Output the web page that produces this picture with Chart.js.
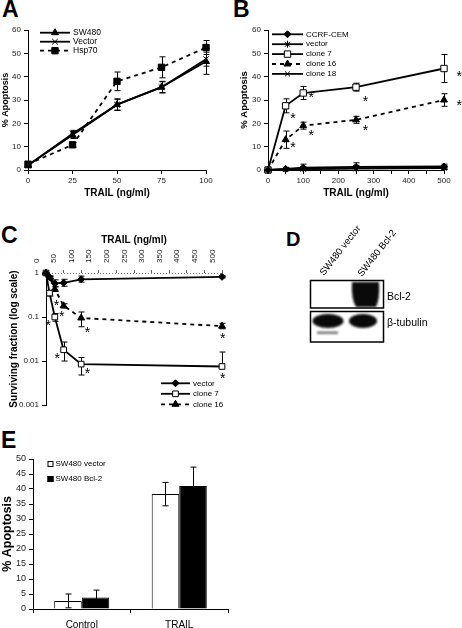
<!DOCTYPE html>
<html>
<head>
<meta charset="utf-8">
<title>TRAIL / Bcl-2 figure</title>
<script src="https://cdn.jsdelivr.net/npm/chart.js"></script>
<style>
  html, body { margin:0; padding:0; background:#fff; }
  body { position:relative; width:462px; height:628px; overflow:hidden;
         font-family:"Liberation Sans", Arial, sans-serif; }
  canvas { position:absolute; }
  .lbl { position:absolute; font-weight:bold; line-height:1; color:#000; }
</style>
</head>
<body>
<div class="lbl" style="left:2px;top:-2.5px;font-size:23px">A</div>
<div class="lbl" style="left:233px;top:-2.5px;font-size:23px">B</div>
<div class="lbl" style="left:1px;top:223.5px;font-size:23px">C</div>
<div class="lbl" style="left:286px;top:229px;font-size:20px">D</div>
<div class="lbl" style="left:1px;top:428.5px;font-size:23px">E</div>

<canvas id="chartA" width="215" height="180" style="left:0;top:20px"></canvas>
<canvas id="chartB" width="231" height="180" style="left:231px;top:20px"></canvas>
<canvas id="chartC" width="231" height="190" style="left:0;top:225px"></canvas>
<canvas id="blotD" width="231" height="135" style="left:231px;top:215px"></canvas>
<canvas id="chartE" width="240" height="188" style="left:0;top:440px"></canvas>

<script>
// ===== Datos =====
// A: % apoptosis vs TRAIL
const doseA = [0, 25, 50, 75, 100];
const sw480A = [2, 15, 28, 35.5, 46.5];
const sw480AErr = [1, 1.5, 2.5, 2.5, 5.5];
const vectorA = [2, 15.5, 28, 35.5, 47.5];
const vectorAErr = [1, 1.5, 2.3, 2.3, 3];
const hsp70A = [2.5, 10.8, 38, 44, 52.5];
const hsp70AErr = [1, 1, 4, 4.5, 3];

// B: CEM clones
const doseB = [0, 50, 100, 250, 500];
const ccrfB = [0, 0.5, 1, 1.3, 1.5];
const ccrfBErr = [0, 0.5, 1.5, 1.8, 1];
const vectorB = [0, 0.3, 0.5, 0.8, 1];
const vectorBErr = [0, 0.3, 0.8, 1.2, 0.8];
const clone7B = [0, 27.5, 33, 35.5, 43.5];
const clone7BErr = [0, 3, 2.8, 1.7, 6];
const clone16B = [0, 13, 19, 21.5, 30];
const clone16BErr = [0, 3.7, 1.5, 1.5, 2.7];
const clone18B = [0, 0.2, 0.4, 0.6, 0.8];
const clone18BErr = [0, 0.3, 0.5, 0.8, 0.5];
const starsB = [[71, 23.6], [123, 32.5], [277, 30.7], [543, 41.7],
                [71, 11.1], [123, 16.4], [277, 18.6], [543, 29.3]];

// C: surviving fraction (log)
const doseC = [0, 10, 25, 50, 100, 500];
const vectorC = [1, 0.8, 0.58, 0.6, 0.72, 0.82];
const vectorCUp = [0, 0.05, 0.12, 0.12, 0.13, 0.05];
const vectorCDown = [0, 0.05, 0.08, 0.1, 0.1, 0.05];
const clone7C = [1, 0.35, 0.1, 0.018, 0.0085, 0.0075];
const clone7CUp = [0, 0.05, 0.02, 0.009, 0.0035, 0.0085];
const clone7CDown = [0, 0.05, 0.02, 0.008, 0.0037, 0];
const clone16C = [1, 0.8, 0.43, 0.18, 0.095, 0.062];
const clone16CUp = [0, 0.05, 0.05, 0.02, 0.035, 0.01];
const clone16CDown = [0, 0.05, 0.05, 0.02, 0.035, 0.008];
const starsC = [[30, 0.224], [44.6, 0.123], [6.5, 0.076], [118, 0.052],
                [32, 0.0136], [118, 0.0064], [502, 0.04], [502, 0.0049]];
const logTicksC = [0.001, 0.01, 0.1, 1];

// D: western blot labels
const lanesD = ['SW480 vector', 'SW480 Bcl-2'];
const bandsD = ['Bcl-2', '\u03b2-tubulin'];

// E: bars
const groupsE = ['Control', 'TRAIL'];
const vectorE = [2.7, 38.3];
const vectorEErr = [2.3, 3.9];
const bcl2E = [3.8, 41];
const bcl2EErr = [2.5, 6.3];

// ===== Plugins =====
const FONT = '"Liberation Sans", Arial, sans-serif';

function drawErrors(chart) {
  const ctx = chart.ctx;
  chart.data.datasets.forEach((ds, i) => {
    if (!ds.errUp) return;
    const meta = chart.getDatasetMeta(i);
    const ys = chart.scales[meta.yAxisID];
    ctx.save();
    ctx.strokeStyle = '#000';
    ctx.lineWidth = 1;
    meta.data.forEach((el, j) => {
      const raw = ds.data[j];
      const v = typeof raw === 'object' ? raw.y : raw;
      const up = ds.errUp[j] || 0;
      const dn = ds.errDown ? (ds.errDown[j] || 0) : up;
      if (!up && !dn) return;
      const x = Math.round(el.x) + 0.5;
      const yT = ys.getPixelForValue(v + up);
      const lo = Math.max(v - dn, ys.min);
      const yB = ys.getPixelForValue(lo);
      const cap = 3;
      ctx.beginPath();
      ctx.moveTo(x, yT); ctx.lineTo(x, yB);
      if (up) { ctx.moveTo(x - cap, yT); ctx.lineTo(x + cap, yT); }
      if (dn && v - dn > ys.min) { ctx.moveTo(x - cap, yB); ctx.lineTo(x + cap, yB); }
      ctx.stroke();
    });
    ctx.restore();
  });
}

const errorBars = {
  id: 'errorBars',
  beforeDatasetsDraw(chart, args, o) { if (o.layer === 'below') drawErrors(chart); },
  afterDatasetsDraw(chart, args, o) { if (o.layer !== 'below') drawErrors(chart); }
};

// asteriscos de significancia
const starMarks = {
  id: 'starMarks',
  afterDatasetsDraw(chart, args, o) {
    if (!o.points) return;
    const { ctx, scales } = chart;
    ctx.save();
    ctx.font = '14px ' + FONT;
    ctx.fillStyle = '#000';
    ctx.textAlign = 'center';
    ctx.textBaseline = 'alphabetic';
    for (let k = 0; k < o.points.length; k++) {
      const p = o.points[k];
      ctx.fillText('*', scales.x.getPixelForValue(p[0]), scales.y.getPixelForValue(p[1]) + 8);
    }
    ctx.restore();
  }
};

const refLine = {
  id: 'refLine',
  beforeDatasetsDraw(chart, args, o) {
    if (o.value === undefined) return;
    const { ctx, chartArea, scales } = chart;
    const y = Math.round(scales.y.getPixelForValue(o.value)) + 0.5;
    ctx.save();
    ctx.strokeStyle = '#777';
    ctx.lineWidth = 1;
    ctx.setLineDash([1, 2]);
    ctx.beginPath(); ctx.moveTo(chartArea.left, y); ctx.lineTo(chartArea.right, y); ctx.stroke();
    ctx.restore();
  }
};

function markerAt(ctx, ds, x, y) {
  const opts = { pointStyle: ds.pointStyle, radius: ds.pointRadius, borderWidth: 1, rotation: 0 };
  ctx.fillStyle = ds.pointBackgroundColor;
  ctx.strokeStyle = '#000';
  ctx.lineWidth = 1;
  if (Chart.helpers && Chart.helpers.drawPoint) Chart.helpers.drawPoint(ctx, opts, x, y);
  else { ctx.fillRect(x - 3, y - 3, 6, 6); ctx.strokeRect(x - 3, y - 3, 6, 6); }
}

// leyenda dentro del área del gráfico
const insetLegend = {
  id: 'insetLegend',
  afterDraw(chart, args, o) {
    if (o.x === undefined) return;
    const ctx = chart.ctx;
    ctx.save();
    ctx.font = o.size + 'px ' + FONT;
    ctx.textBaseline = 'middle';
    chart.data.datasets.forEach((ds, i) => {
      const y = o.y + i * o.gap;
      if (o.box) {
        ctx.fillStyle = ds.backgroundColor;
        ctx.fillRect(o.x, y - o.box / 2, o.box, o.box);
        ctx.strokeStyle = '#000'; ctx.lineWidth = 1;
        ctx.strokeRect(o.x + 0.5, y - o.box / 2 + 0.5, o.box - 1, o.box - 1);
        ctx.fillStyle = '#000';
        ctx.fillText(ds.label, o.x + o.box + 2, y);
      } else {
        ctx.strokeStyle = '#000';
        ctx.lineWidth = ds.borderWidth;
        ctx.setLineDash(ds.borderDash || []);
        ctx.beginPath(); ctx.moveTo(o.x, y); ctx.lineTo(o.x1, y); ctx.stroke();
        ctx.setLineDash([]);
        markerAt(ctx, ds, (o.x + o.x1) / 2, y);
        ctx.fillStyle = '#000';
        ctx.fillText(ds.label, o.x1 + 3, y);
      }
    });
    ctx.restore();
  }
};

Chart.register(errorBars, starMarks, refLine, insetLegend);
Chart.defaults.font.family = FONT;
Chart.defaults.color = '#222';
Chart.defaults.animation = false;
Chart.defaults.plugins.legend.display = false;
Chart.defaults.plugins.tooltip.enabled = false;

// ===== Helpers =====
const tickGrid = () => ({ display: true, drawOnChartArea: false, drawTicks: true, tickLength: 4,
                          color: '#000', tickColor: '#000', lineWidth: 1 });
const axisBorder = () => ({ display: true, color: '#000', width: 1 });

function lineSet(label, xs, ys, st, errUp, errDown) {
  return {
    label,
    data: xs.map((x, i) => ({ x, y: ys[i] })),
    borderColor: '#000',
    backgroundColor: st.fill || '#000',
    borderWidth: 1.8,
    borderDash: st.dash || [],
    pointStyle: st.point,
    pointRadius: st.r || 3.5,
    pointBackgroundColor: st.fill || '#000',
    pointBorderColor: '#000',
    pointBorderWidth: 1,
    tension: 0,
    clip: false,
    errUp, errDown
  };
}

function yAxis(width, title, tSize, tPad, extra) {
  return Object.assign({
    type: 'linear',
    grid: tickGrid(), border: axisBorder(),
    ticks: { font: { size: 8 }, padding: 3, color: '#222' },
    title: { display: true, text: title, color: '#000', font: { size: tSize, weight: 'bold' }, padding: { top: tPad, bottom: 0 } },
    afterFit: s => { s.width = width; }
  }, extra);
}

function xAxis(height, title, extra) {
  return Object.assign({
    type: 'linear',
    grid: tickGrid(), border: axisBorder(),
    title: { display: true, text: title, color: '#000', font: { size: 10, weight: 'bold' }, padding: { top: 0, bottom: 1 } },
    afterFit: s => { s.height = height; }
  }, extra);
}

// ===== A =====
new Chart(document.getElementById('chartA'), {
  type: 'line',
  data: { datasets: [
    lineSet('SW480', doseA, sw480A, { point: 'triangle', r: 4 }, sw480AErr),
    lineSet('Vector', doseA, vectorA, { point: 'crossRot', r: 4 }, vectorAErr),
    lineSet('Hsp70', doseA, hsp70A, { point: 'rect', r: 4.5, dash: [4, 4] }, hsp70AErr)
  ]},
  options: {
    responsive: false,
    layout: { padding: { top: 10, right: 9, left: 0, bottom: 0 } },
    scales: {
      x: xAxis(30, 'TRAIL (ng/ml)', { min: 0, max: 100,
        ticks: { stepSize: 25, font: { size: 8 }, padding: 2, maxRotation: 0, color: '#222' } }),
      y: yAxis(28, '% Apoptosis', 9, 0, { min: 0, max: 60, ticks: { stepSize: 10, font: { size: 8 }, padding: 3, color: '#222' } })
    },
    plugins: {
      errorBars: { layer: 'below' },
      insetLegend: { x: 40, x1: 70, y: 12.7, gap: 9, size: 8.5 }
    }
  }
});

// ===== B =====
new Chart(document.getElementById('chartB'), {
  type: 'line',
  data: { datasets: [
    lineSet('CCRF-CEM', doseB, ccrfB, { point: 'rectRot', r: 3.5 }, ccrfBErr),
    lineSet('vector', doseB, vectorB, { point: 'star', r: 3.5 }, vectorBErr),
    lineSet('clone 7', doseB, clone7B, { point: 'rect', r: 4.5, fill: '#fff' }, clone7BErr),
    lineSet('clone 16', doseB, clone16B, { point: 'triangle', r: 4, dash: [4, 4] }, clone16BErr),
    lineSet('clone 18', doseB, clone18B, { point: 'crossRot', r: 3.5 }, clone18BErr)
  ]},
  options: {
    responsive: false,
    layout: { padding: { top: 10, right: 18, left: 0, bottom: 0 } },
    scales: {
      x: xAxis(30, 'TRAIL (ng/ml)', { min: 0, max: 500,
        ticks: { stepSize: 50, font: { size: 8 }, padding: 2, maxRotation: 0, autoSkip: false, color: '#222',
                 callback: v => (v % 100 === 0 ? v : '') } }),
      y: yAxis(37, '% Apoptosis', 9.5, 8, { min: 0, max: 60, ticks: { stepSize: 10, font: { size: 8 }, padding: 3, color: '#222' } })
    },
    plugins: {
      errorBars: { layer: 'below' },
      starMarks: { points: starsB },
      insetLegend: { x: 41, x1: 72, y: 14.3, gap: 9.9, size: 8 }
    }
  }
});

// ===== C =====
new Chart(document.getElementById('chartC'), {
  type: 'line',
  data: { datasets: [
    lineSet('vector', doseC, vectorC, { point: 'rectRot', r: 3.5 }, vectorCUp, vectorCDown),
    lineSet('clone 7', doseC, clone7C, { point: 'rect', r: 4, fill: '#fff' }, clone7CUp, clone7CDown),
    lineSet('clone 16', doseC, clone16C, { point: 'triangle', r: 4, dash: [4, 4] }, clone16CUp, clone16CDown)
  ]},
  options: {
    responsive: false,
    layout: { padding: { top: 0, right: 9, left: 0, bottom: 10 } },
    scales: {
      x: xAxis(48, 'TRAIL (ng/ml)', {
        position: 'top', min: 0, max: 500,
        grid: Object.assign(tickGrid(), { tickLength: 3, color: '#666', tickColor: '#666' }),
        border: { display: false },
        title: { display: true, text: 'TRAIL (ng/ml)', color: '#000', font: { size: 10, weight: 'bold' }, padding: { top: 9, bottom: 0 } },
        ticks: { stepSize: 50, font: { size: 8 }, padding: 7, minRotation: 90, maxRotation: 90, autoSkip: false, color: '#222' }
      }),
      y: yAxis(46, 'Surviving fraction (log scale)', 10, 8, {
        type: 'logarithmic', min: 0.001, max: 1,
        afterBuildTicks: s => { s.ticks = logTicksC.map(v => ({ value: v })); },
        ticks: { font: { size: 8 }, padding: 3, color: '#222', callback: v => String(v) }
      })
    },
    plugins: {
      refLine: { value: 1 },
      errorBars: { layer: 'below' },
      starMarks: { points: starsC },
      insetLegend: { x: 161, x1: 190, y: 158.3, gap: 10.5, size: 8 }
    }
  }
});

// ===== D: blot (plain canvas) =====
(function drawBlot() {
  const ctx = document.getElementById('blotD').getContext('2d');
  ctx.fillStyle = '#000';
  ctx.font = '9.6px ' + FONT;
  const laneAnchor = [[93, 61], [131, 62]];
  lanesD.forEach((t, i) => {
    ctx.save();
    ctx.translate(laneAnchor[i][0], laneAnchor[i][1]);
    ctx.rotate(-52 * Math.PI / 180);
    ctx.fillText(t, 0, 0);
    ctx.restore();
  });
  // marcos
  ctx.strokeStyle = '#000';
  ctx.lineWidth = 1.5;
  ctx.strokeRect(79.5, 65.5, 73, 27.5);
  ctx.strokeRect(79.5, 96.5, 73, 30.5);
  // bandas
  ctx.save();
  ctx.filter = 'blur(1.2px)';
  ctx.fillStyle = '#0a0a0a';
  ctx.beginPath();
  ctx.moveTo(121, 67); ctx.lineTo(148, 67);
  ctx.quadraticCurveTo(149, 84, 145, 92);
  ctx.lineTo(125, 92);
  ctx.quadraticCurveTo(120, 84, 121, 67);
  ctx.fill();
  ctx.beginPath();
  ctx.ellipse(97, 106, 15.5, 7, 0, 0, Math.PI * 2);
  ctx.fill();
  ctx.beginPath();
  ctx.ellipse(132, 106, 14, 7, 0, 0, Math.PI * 2);
  ctx.fill();
  ctx.fillStyle = '#777';
  ctx.fillRect(86, 116.5, 21, 2.5);
  ctx.restore();
  // nombres de bandas
  ctx.fillStyle = '#000';
  ctx.font = '10.5px ' + FONT;
  ctx.textBaseline = 'middle';
  ctx.fillText(bandsD[0], 156, 82);
  ctx.fillText(bandsD[1], 156, 108.5);
})();

// ===== E =====
new Chart(document.getElementById('chartE'), {
  type: 'bar',
  data: {
    labels: groupsE,
    datasets: [
      { label: 'SW480 vector', data: vectorE, backgroundColor: '#fff', borderColor: '#000', borderWidth: 1,
        barPercentage: 1, categoryPercentage: 0.565, errUp: vectorEErr },
      { label: 'SW480 Bcl-2', data: bcl2E, backgroundColor: '#000', borderColor: '#000', borderWidth: 1,
        barPercentage: 1, categoryPercentage: 0.565, errUp: bcl2EErr }
    ]
  },
  options: {
    responsive: false,
    layout: { padding: { top: 19, right: 12, left: 0, bottom: 0 } },
    scales: {
      x: {
        type: 'category', offset: true,
        grid: Object.assign(tickGrid(), { offset: true }),
        border: axisBorder(),
        ticks: { font: { size: 10 }, padding: 6, color: '#000', maxRotation: 0 },
        afterFit: s => { s.height = 19; }
      },
      y: yAxis(33, '% Apoptosis', 12.5, 0.5, { min: 0, max: 50, ticks: { stepSize: 5, font: { size: 9 }, padding: 3, color: '#222' } })
    },
    plugins: {
      insetLegend: { x: 47.5, y: 24, gap: 15, size: 8, box: 6 }
    }
  }
});
</script>
</body>
</html>
